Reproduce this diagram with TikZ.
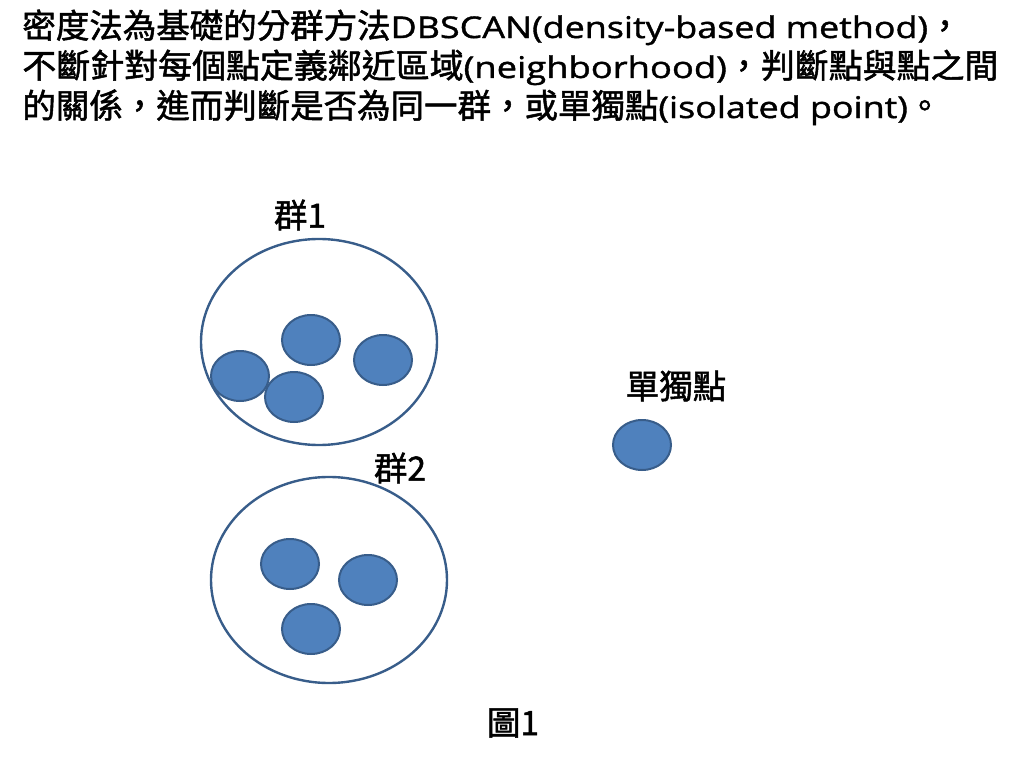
\documentclass[tikz,border=0pt]{standalone}
\usepackage{graphicx}
\usepackage{fontspec}
\setmainfont{Open Sans}[FakeStretch=1.2, FakeBold=1.3]
\newfontfamily\cjk{Noto Sans CJK TC}[Scale=1.12, FakeBold=1.5]
\usetikzlibrary{shapes.geometric}
\definecolor{ptfill}{HTML}{4F81BD}
\definecolor{ptline}{HTML}{385D8A}
\newcommand{\zh}[1]{{\cjk #1}}

\begin{document}
\begin{tikzpicture}[x=0.5bp, y=-0.5bp,
    cluster/.style={ellipse, draw=ptline, line width=1.2bp, minimum width=118bp, minimum height=103bp, inner sep=0pt},
    pt/.style={ellipse, draw=ptline, fill=ptfill, line width=1bp, minimum width=29bp, minimum height=25bp, inner sep=0pt},
    lbl/.style={font=\fontsize{15}{20}\selectfont, inner sep=0pt}]
      \useasboundingbox (0, 0) rectangle (1024, 765);
      \node [lbl, anchor=base west] (line1) at (22, 38) {\zh{密度法為基礎的分群方法}DBSCAN(density-based method)\zh{，}};
      \node [lbl, anchor=base west] (line2) at (22, 78) {\resizebox{488bp}{\height}{\zh{不斷針對每個點定義鄰近區域}(neighborhood)\zh{，判斷點與點之間}}};
      \node [lbl, anchor=base west] (line3) at (22, 118) {\zh{的關係，進而判斷是否為同一群，或單獨點}(isolated point)\zh{。}};
      % group 1
      \node [cluster] (c1) at (319, 342) {};
      \node [lbl] (c1lbl) at (300, 215) {\zh{群1}};
      \node [pt] (p1) at (311, 340) {};
      \node [pt] (p2) at (383, 360) {};
      \node [pt] (p3) at (240, 376) {};
      \node [pt] (p4) at (294, 397) {};
      % group 2
      \node [cluster] (c2) at (329, 580) {};
      \node [lbl] (c2lbl) at (400, 468) {\zh{群2}};
      \node [pt] (p5) at (290, 564) {};
      \node [pt] (p6) at (368, 580) {};
      \node [pt] (p7) at (311, 629) {};
      % isolated point
      \node [lbl] (isolbl) at (676, 386) {\zh{單獨點}};
      \node [pt] (iso) at (642, 445) {};
      \node [lbl] (fig) at (513, 723) {\zh{圖1}};
    \end{tikzpicture}
\end{document}
